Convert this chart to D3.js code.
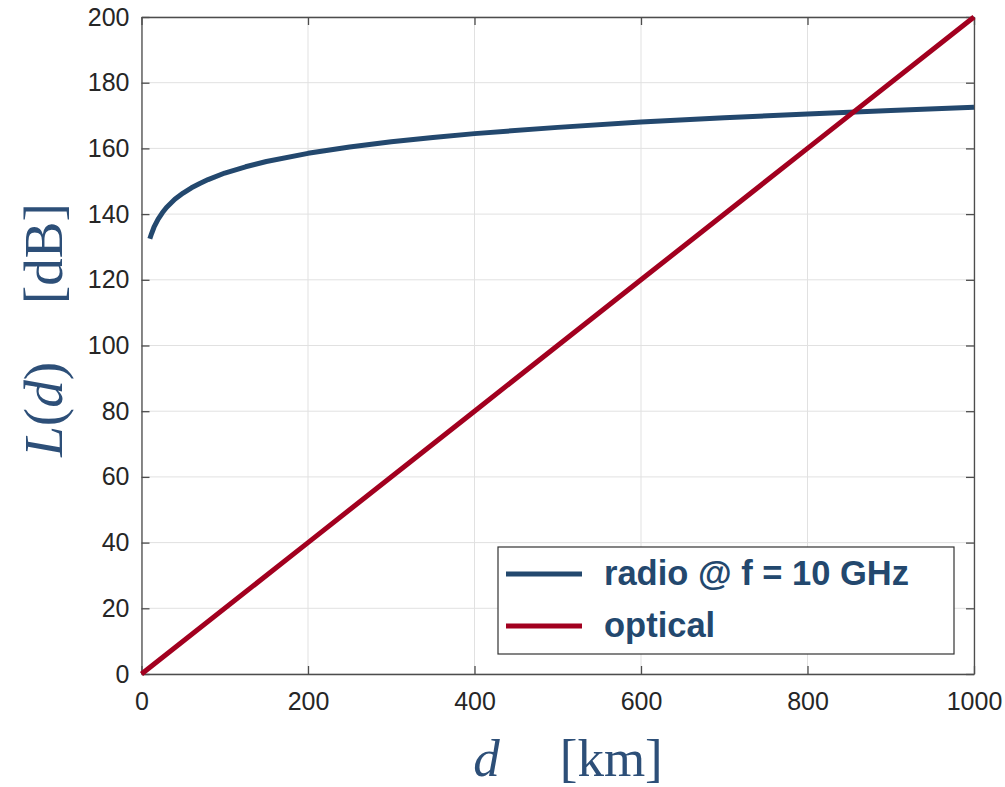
<!DOCTYPE html>
<html><head><meta charset="utf-8">
<script src="https://cdn.jsdelivr.net/npm/d3@7"></script>
<style>body{margin:0;background:#fff}svg{display:block}</style>
</head><body>
<svg id="c" width="1005" height="787"></svg>
<script>
// ---- data ----
const radioD = [10,12,15,20,25,30,40,50,60,70,80,100,125,150,200,250,300,350,400,500,600,700,800,900,1000];
const radioL = [132.5,134,136,138.5,140.4,142,144.5,146.4,148,149.3,150.5,152.5,154.4,156,158.5,160.4,162,163.3,164.5,166.4,168,169.3,170.5,171.5,172.5];
const opticalD = [0,200,400,600,800,1000];
const opticalL = [0,40,80,120,160,200];
const xTicks = [0,200,400,600,800,1000];
const yTicks = [0,20,40,60,80,100,120,140,160,180,200];
const seriesNames = ["radio @ f = 10 GHz","optical"];

const radioColor = "#23486e", opticalColor = "#a2001f";
const svg = d3.select("#c");
const L = 141.5, R = 974, T = 17, B = 674;
const x = d3.scaleLinear().domain([0,1000]).range([L,R]);
const y = d3.scaleLinear().domain([0,200]).range([B,T]);

// grid
const g = svg.append("g");
g.selectAll(".vg").data(xTicks).enter().append("line")
  .attr("x1",d=>x(d)).attr("x2",d=>x(d)).attr("y1",T).attr("y2",B)
  .attr("stroke","#e1e1e1").attr("stroke-width",1);
g.selectAll(".hg").data(yTicks).enter().append("line")
  .attr("y1",d=>y(d)).attr("y2",d=>y(d)).attr("x1",L).attr("x2",R)
  .attr("stroke","#e1e1e1").attr("stroke-width",1);

// axes with inward ticks
const axStyle = sel => {
  sel.attr("font-size",null).attr("font-family",null);
  sel.select(".domain").attr("stroke","#4d4d4d").attr("stroke-width",1.3);
  sel.selectAll(".tick line").attr("stroke","#4d4d4d").attr("stroke-width",1.3);
  sel.selectAll("text").attr("fill","#262626").style("font-family","Liberation Sans, Arial, sans-serif").style("font-size","25px");
};
svg.append("g").attr("transform",`translate(0,${B})`)
  .call(d3.axisBottom(x).tickValues(xTicks).tickSizeInner(-8).tickSizeOuter(0).tickPadding(18).tickFormat(d3.format("d")))
  .call(axStyle);
svg.append("g").attr("transform",`translate(0,${T})`)
  .call(d3.axisTop(x).tickValues(xTicks).tickSizeInner(-8).tickSizeOuter(0).tickFormat(""))
  .call(axStyle);
svg.append("g").attr("transform",`translate(${L},0)`)
  .call(d3.axisLeft(y).tickValues(yTicks).tickSizeInner(-8).tickSizeOuter(0).tickPadding(12).tickFormat(d3.format("d")))
  .call(axStyle);
svg.append("g").attr("transform",`translate(${R},0)`)
  .call(d3.axisRight(y).tickValues(yTicks).tickSizeInner(-8).tickSizeOuter(0).tickFormat(""))
  .call(axStyle);

// lines
const line = d3.line().x(d=>x(d[0])).y(d=>y(d[1]));
svg.append("path").datum(radioD.map((d,i)=>[d,radioL[i]]))
  .attr("d",line).attr("fill","none").attr("stroke",radioColor).attr("stroke-width",5).attr("stroke-linejoin","round");
svg.append("path").datum(opticalD.map((d,i)=>[d,opticalL[i]]))
  .attr("d",line).attr("fill","none").attr("stroke",opticalColor).attr("stroke-width",5);

// legend
const lg = svg.append("g");
lg.append("rect").attr("x",498).attr("y",547).attr("width",456).attr("height",107)
  .attr("fill","#fff").attr("stroke","#333").attr("stroke-width",1.2);
[radioColor, opticalColor].forEach((c,i)=>{
  const yy = 574 + i*52;
  lg.append("line").attr("x1",506).attr("x2",582).attr("y1",yy).attr("y2",yy).attr("stroke",c).attr("stroke-width",5);
  lg.append("text").attr("x",604).attr("y",yy+11).text(seriesNames[i])
    .style("font-family","Liberation Sans, Arial, sans-serif").attr("font-weight","bold").style("font-size","34.5px").attr("fill","#23486e");
});

// axis labels
const lblColor = "#2d4f78";
const xl = svg.append("text").attr("x",568).attr("y",776).attr("text-anchor","middle")
  .attr("font-family","Liberation Serif, DejaVu Serif, serif").attr("font-size",53).attr("fill",lblColor);
xl.append("tspan").attr("font-style","italic").text("d");
xl.append("tspan").attr("dx",60).text("[km]");

const yl = svg.append("text").attr("transform","translate(62,330) rotate(-90)").attr("text-anchor","middle")
  .attr("font-family","Liberation Serif, DejaVu Serif, serif").attr("font-size",55).attr("fill",lblColor);
yl.append("tspan").attr("font-style","italic").text("L");
yl.append("tspan").text("(");
yl.append("tspan").attr("font-style","italic").text("d");
yl.append("tspan").text(")");
yl.append("tspan").attr("dx",58).text("[dB]");
</script>
</body></html>
